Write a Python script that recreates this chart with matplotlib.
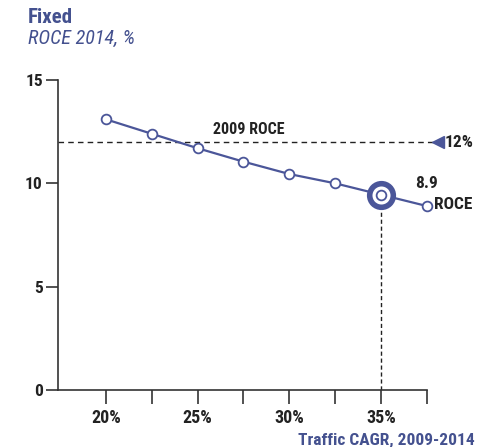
import matplotlib
matplotlib.use("Agg")
import matplotlib.pyplot as plt
from matplotlib import font_manager

entries = font_manager.fontManager.ttflist

def has_bold(name):
    for f in entries:
        if f.name == name:
            w = f.weight
            try:
                w = int(w)
            except (TypeError, ValueError):
                w = 700 if str(w) in ("bold", "heavy", "black", "demibold", "semibold", "extra bold") else 400
            if w >= 600:
                return True
    return False

FONT = "DejaVu Sans"
for cand in ["Roboto Condensed", "Archivo Narrow", "Fira Sans Condensed", "IBM Plex Sans Condensed",
             "Barlow Semi Condensed", "Asap Condensed", "Encode Sans Semi Condensed"]:
    if has_bold(cand):
        FONT = cand
        break
plt.rcParams['font.family'] = [FONT, 'DejaVu Sans']

# data
traffic_cagr = [20, 22.5, 25, 27.5, 30, 32.5, 35, 37.5]
roce_2014 = [13.1, 12.4, 11.7, 11.05, 10.45, 10.0, 9.45, 8.9]
roce_2009 = 12
highlight_x = 35
x_tick_pos = [20, 22.5, 25, 27.5, 30, 32.5, 35, 37.5]
x_tick_labels = ["20%", "", "25%", "", "30%", "", "35%", ""]
y_ticks = [0, 5, 10, 15]

BLUE = "#4b5699"
TITLE_BLUE = "#44518f"
DARK = "#222222"

fig = plt.figure(figsize=(4.88, 4.47), dpi=100)
ax = fig.add_axes([0.119, 0.1275, 0.756, 0.6935])

ax.set_xlim(17.4, 37.5)
ax.set_ylim(0, 15)

# reference dashed lines
ax.plot([17.4, 37.8], [roce_2009, roce_2009], ls=(0, (4, 3)), color=DARK, lw=1.0, clip_on=False, zorder=2)
hi_y = roce_2014[traffic_cagr.index(highlight_x)]
ax.plot([highlight_x, highlight_x], [0, hi_y], ls=(0, (3, 2)), color=DARK, lw=1.0, zorder=2)

# main line
ax.plot(traffic_cagr, roce_2014, color=BLUE, lw=1.6, marker="o", ms=7,
        mfc="white", mec=BLUE, mew=1.3, zorder=4, clip_on=False)
# highlighted point
ax.plot([highlight_x], [hi_y], marker="o", ms=17, mfc="white", mec=BLUE, mew=4, zorder=5)
ax.plot([highlight_x], [hi_y], marker="o", ms=7, mfc="white", mec=BLUE, mew=1.3, zorder=6)

# triangle marker for 2009 ROCE
ax.plot([38.1], [roce_2009], marker="<", ms=9, color=BLUE, clip_on=False, zorder=5)
ax.text(38.45, roce_2009, "12%", fontsize=12.5, fontweight="bold", color=DARK, va="center", ha="left")
ax.text(27.8, roce_2009 + 0.25, "2009 ROCE", fontsize=11.5, fontweight="bold", color=DARK, va="bottom", ha="center")
ax.text(37.45, 10.0, "8.9", fontsize=12.5, fontweight="bold", color=DARK, va="center", ha="center")
ax.text(37.9, roce_2014[-1] + 0.1, "ROCE", fontsize=12.5, fontweight="bold", color=DARK, va="center", ha="left")

# axes styling
for s in ["top", "right"]:
    ax.spines[s].set_visible(False)
ax.spines["left"].set_color("#333333")
ax.spines["bottom"].set_color("#333333")
ax.spines["left"].set_linewidth(1.2)
ax.spines["bottom"].set_linewidth(1.2)

ax.set_yticks(y_ticks)
ax.set_yticklabels([str(v) for v in y_ticks], fontsize=12.5, fontweight="bold", color=DARK)
ax.set_xticks(x_tick_pos)
ax.set_xticklabels(x_tick_labels, fontsize=13, fontweight="bold", color=DARK)
ax.tick_params(axis="y", length=9, width=1.2, color="#333333", pad=2)
ax.tick_params(axis="x", length=10, width=1.2, color="#333333", pad=4)

fig.text(0.057, 0.960, "Fixed", fontsize=15, fontweight="bold", color=TITLE_BLUE, va="center", ha="left")
fig.text(0.057, 0.913, "ROCE 2014, %", fontsize=14.5, style="italic", color=TITLE_BLUE, va="center", ha="left")
fig.text(0.973, 0.015, "Traffic CAGR, 2009-2014", fontsize=12.5, fontweight="bold", color=TITLE_BLUE, va="center", ha="right")

fig.savefig("out.png", dpi=100, facecolor="white")
